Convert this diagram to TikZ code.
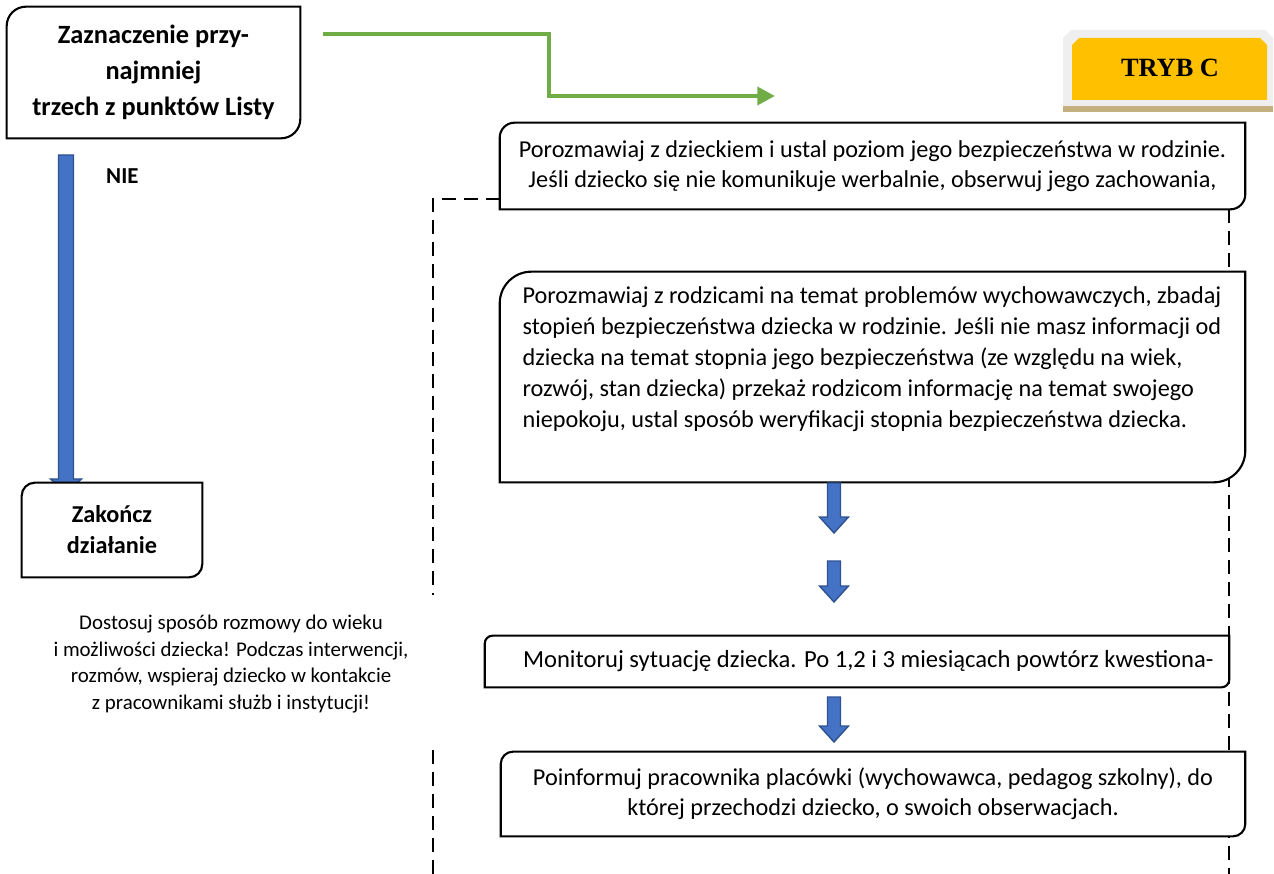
\documentclass[tikz,border=0pt]{standalone}
\usepackage{fontspec}
\setmainfont{Carlito}
\newfontfamily\trybfont{Liberation Serif}
\usetikzlibrary{arrows.meta,calc}
\pgfdeclarelayer{background}
\pgfsetlayers{background,main}

\definecolor{arrowgreen}{HTML}{70AD47}
\definecolor{arrowblue}{HTML}{4472C4}
\definecolor{arrowedge}{HTML}{2F528F}
\definecolor{trybgold}{HTML}{FFC000}
\definecolor{trybframe}{HTML}{EFEFEF}
\definecolor{trybshadow}{HTML}{C4B07E}

% box outline: rounded top left and bottom right corner
\newcommand\diagframe[2]{%
  \filldraw[boxline] (#2.south west) -- ([yshift=-#1]#2.north west)
    arc[start angle=180,end angle=90,radius=#1] -- (#2.north east)
    -- ([yshift=#1]#2.south east) arc[start angle=0,end angle=-90,radius=#1] -- cycle;}

\begin{document}
\begin{tikzpicture}[x=0.02cm,y=-0.02cm]
    \tikzstyle{boxline}=[draw=black,fill=white,line width=1.2pt]
    \tikzstyle{box}=[inner sep=0pt,align=center,font=\fontsize{13.8}{17}\selectfont]
    \tikzstyle{boldbox}=[box,font=\fontsize{15}{19.3}\selectfont\bfseries]
    \tikzstyle{frameline}=[draw=black,line width=1pt,dash pattern=on 8pt off 4.5pt]
    \tikzstyle{blockarrow}=[fill=arrowblue,draw=arrowedge,line width=0.8pt]
    \tikzstyle{greenarrow}=[draw=arrowgreen,line width=2.8pt,-{Triangle[length=10pt,width=10pt]}]
    \useasboundingbox (0,0) rectangle (1274,874);

    % left column
    \node[boldbox,minimum width=5.86cm,minimum height=2.62cm] (zazn) at (153.5,72.5)
      {\raisebox{-0.08cm}{\begin{tabular}{@{}c@{}}Zaznaczenie przy-\\[1.3pt]najmniej\\[1.3pt]trzech z punktów Listy\end{tabular}}};
    \node[boldbox,font=\fontsize{13.8}{17.6}\selectfont\bfseries,minimum width=3.6cm,minimum height=1.88cm] (koniec) at (112,530)
      {Zakończ\\działanie};
    \node[anchor=west,font=\fontsize{13}{15}\selectfont\bfseries] (nie) at (100,176) {NIE};
    \node[align=center,font=\fontsize{11.9}{15.3}\selectfont] (uwaga) at (231,664)
      {Dostosuj sposób rozmowy do wieku\\
       i możliwości dziecka! Podczas interwencji,\\
       rozmów, wspieraj dziecko w kontakcie\\
       z pracownikami służb i instytucji!};

    % right column
    \node[font=\trybfont\bfseries\fontsize{15}{18}\selectfont] (tryb) at (1170,68) {TRYB C};
    \node[box,minimum width=14.9cm,minimum height=1.72cm] (rozm1) at (872.5,166)
      {Porozmawiaj z dzieckiem i ustal poziom jego bezpieczeństwa w rodzinie.\\
       Jeśli dziecko się nie komunikuje werbalnie, obserwuj jego zachowania,};
    \node[box,font=\fontsize{13.8}{17.6}\selectfont,minimum width=14.9cm,minimum height=4.2cm] (rozm2) at (872.5,377)
      {\begin{minipage}[c][3.6cm][t]{14.8cm}\raggedright\leftskip=0.4cm
       Porozmawiaj z rodzicami na temat problemów wychowawczych, zbadaj\\
       stopień bezpieczeństwa dziecka w rodzinie. Jeśli nie masz informacji od\\
       dziecka na temat stopnia jego bezpieczeństwa (ze względu na wiek,\\
       rozwój, stan dziecka) przekaż rodzicom informację na temat swojego\\
       niepokoju, ustal sposób weryfikacji stopnia bezpieczeństwa dziecka.
       \end{minipage}};
    \node[box,font=\fontsize{14}{17}\selectfont,minimum width=14.88cm,minimum height=1.02cm] (monit) at (857,661.5)
      {\hspace*{0.45cm}Monitoruj sytuację dziecka. Po 1,2 i 3 miesiącach powtórz kwestiona-};
    \node[box,minimum width=14.88cm,minimum height=1.68cm] (poinf) at (873,794)
      {Poinformuj pracownika placówki (wychowawca, pedagog szkolny), do\\
       której przechodzi dziecko, o swoich obserwacjach.};

    \coordinate (g0) at (323,34);
    \coordinate (g1) at (775,96);
    \draw[greenarrow] (g0) -| ($(g0)!.5!(g1)$) |- (g1);

    \begin{pgfonlayer}{background}
      % dashed frame
      \draw[frameline] (500,199) -- (433,199) -- (433,595);
      \draw[frameline] (433,750) -- (433,874);
      \draw[frameline] (1229,209) -- (1229,874);
      % NIE arrow
      \filldraw[blockarrow] (58.5,155) -- (73.5,155) -- (73.5,479) -- (81.5,479)
        -- (66,492) -- (50.5,479) -- (58.5,479) -- cycle;
      % TRYB C label
      \fill[trybframe] (1063,108) -- (1063,38) -- (1071,30) -- (1265,30) -- (1273,38) -- (1273,108) -- cycle;
      \fill[trybshadow] (1063,106) rectangle (1273,112);
      \fill[trybgold] (1072,100) -- (1072,45) -- (1079,38) -- (1260,38) -- (1267,45) -- (1267,100) -- cycle;
      \diagframe{11pt}{zazn}
      \diagframe{7.5pt}{koniec}
      \diagframe{8.5pt}{rozm1}
      \diagframe{18pt}{rozm2}
      \diagframe{4.5pt}{monit}
      \diagframe{7pt}{poinf}
    \end{pgfonlayer}

    % block arrows between the steps
    \foreach \ytop/\ytip in {483/533, 561/602, 697/742}
    \filldraw[blockarrow] (827.5,\ytop) -- (840.5,\ytop) -- (840.5,\ytip-16) -- (848.5,\ytip-16)
      -- (834,\ytip) -- (819.5,\ytip-16) -- (827.5,\ytip-16) -- cycle;
\end{tikzpicture}
\end{document}
